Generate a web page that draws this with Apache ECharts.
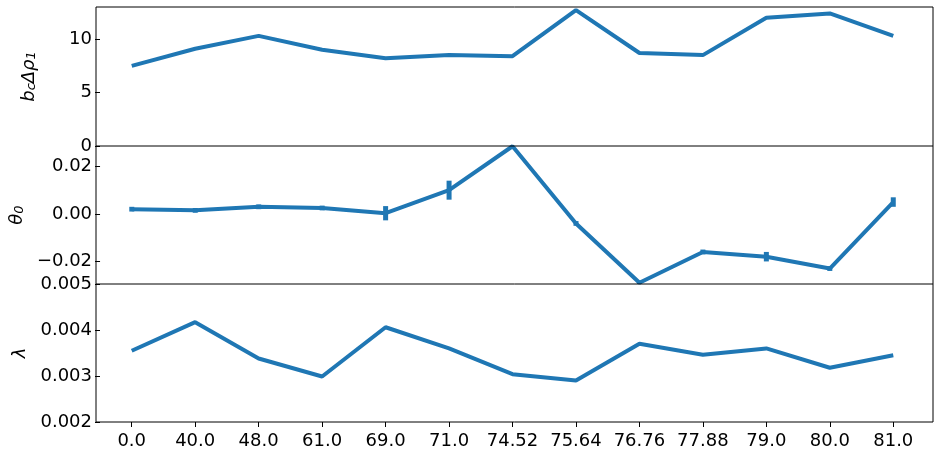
<!DOCTYPE html>
<html lang="en">
<head>
	<meta charset="UTF-8">
	<title>Chart</title>
	<style>
		html,body{height: 100%;margin: 0;padding: 0;background: #fff;overflow: hidden;}
		#main{width: 938px;height: 455px;}
	</style>
</head>
<body>
	<div id="main"></div>
	<script src="https://cdn.jsdelivr.net/npm/echarts@6/dist/echarts.min.js"></script>
	<script>
		var categories = ['0.0', '40.0', '48.0', '61.0', '69.0', '71.0', '74.52', '75.64', '76.76', '77.88', '79.0', '80.0', '81.0'];
		var bcDrho = [7.5, 9.1, 10.3, 9.0, 8.2, 8.5, 8.4, 12.7, 8.7, 8.5, 12.0, 12.4, 10.3];
		var theta0 = [0.002, 0.0015, 0.003, 0.0025, 0.0003, 0.010, 0.0285, -0.004, -0.029, -0.016, -0.018, -0.023, 0.005];
		var theta0Err = [0.001, 0.001, 0.001, 0.001, 0.003, 0.004, 0.001, 0.001, 0.001, 0.001, 0.002, 0.001, 0.002];
		var lambda = [0.00355, 0.00417, 0.00338, 0.00299, 0.00406, 0.0036, 0.00304, 0.0029, 0.0037, 0.00346, 0.0036, 0.00318, 0.00345];
		var ticks1 = [0, 5, 10];
		var ticks2 = [-0.02, 0, 0.02];
		var ticks3 = [0.002, 0.003, 0.004, 0.005];

		var blue = '#1f77b4';
		var font = 'DejaVu Sans';
		var chart = echarts.init(document.getElementById('main'));

		function minusFmt(d) {
			return function (v) { return (v < 0 ? '\u2212' : '') + Math.abs(v).toFixed(d); };
		}
		function yAxis(idx, min, max, ticks, name, d) {
			return {
				type: 'value', gridIndex: idx, min: min, max: max,
				name: name, nameLocation: 'middle', nameGap: 62, nameRotate: 90,
				nameTextStyle: {color: '#000', fontSize: 18, fontFamily: font, fontStyle: 'italic', rich: {
					s: {fontSize: 13, fontFamily: font, fontStyle: 'italic', verticalAlign: 'bottom', color: '#000'}
				}},
				splitLine: {show: false},
				axisLine: {show: false},
				axisTick: {show: true, length: 5, customValues: ticks, lineStyle: {color: '#000'}},
				axisLabel: {color: '#000', fontSize: 18, fontFamily: font, margin: 8, customValues: ticks,
					hideOverlap: false, formatter: minusFmt(d)}
			};
		}
		function xAxis(idx, show) {
			return {
				type: 'category', gridIndex: idx, data: categories, boundaryGap: true,
				axisLine: {show: false},
				axisTick: {show: show, alignWithLabel: true, length: 5, lineStyle: {color: '#000'}},
				axisLabel: {show: show, color: '#000', fontSize: 18, fontFamily: font, margin: 10, interval: 0}
			};
		}

		var errData = theta0.map(function (v, i) { return [i, v - theta0Err[i], v + theta0Err[i]]; });

		var option = {
			animation: false,
			grid: [
				{left: 100, width: 825, top: 7, height: 139},
				{left: 100, width: 825, top: 146, height: 138},
				{left: 100, width: 825, top: 284, height: 138}
			],
			xAxis: [xAxis(0, false), xAxis(1, false), xAxis(2, true)],
			yAxis: [
				yAxis(0, 0, 13, ticks1, 'b{s|c}Δρ{s|1}', 0),
				yAxis(1, -0.0295, 0.0286, ticks2, 'θ{s|0}', 2),
				yAxis(2, 0.002, 0.005, ticks3, 'λ', 3)
			],
			series: [
				{type: 'line', xAxisIndex: 0, yAxisIndex: 0, data: bcDrho, symbol: 'none', lineStyle: {color: blue, width: 4}},
				{type: 'line', xAxisIndex: 1, yAxisIndex: 1, data: theta0, symbol: 'none', lineStyle: {color: blue, width: 4}},
				{type: 'custom', xAxisIndex: 1, yAxisIndex: 1, data: errData,
					renderItem: function (params, api) {
						var lo = api.coord([api.value(0), api.value(1)]);
						var hi = api.coord([api.value(0), api.value(2)]);
						return {type: 'line', shape: {x1: lo[0], y1: lo[1], x2: hi[0], y2: hi[1]}, style: {stroke: blue, lineWidth: 5}};
					}, clip: true},
				{type: 'line', xAxisIndex: 2, yAxisIndex: 2, data: lambda, symbol: 'none', lineStyle: {color: blue, width: 4}}
			],
			graphic: [
				{type: 'rect', shape: {x: 96, y: 7, width: 837, height: 415}, style: {fill: 'none', stroke: '#000', lineWidth: 1}, z: 100},
				{type: 'line', shape: {x1: 96, y1: 146, x2: 933, y2: 146}, style: {stroke: '#000', lineWidth: 1}, z: 100},
				{type: 'line', shape: {x1: 96, y1: 284, x2: 933, y2: 284}, style: {stroke: '#000', lineWidth: 1}, z: 100}
			]
		};
		chart.setOption(option);
	</script>
</body>
</html>
